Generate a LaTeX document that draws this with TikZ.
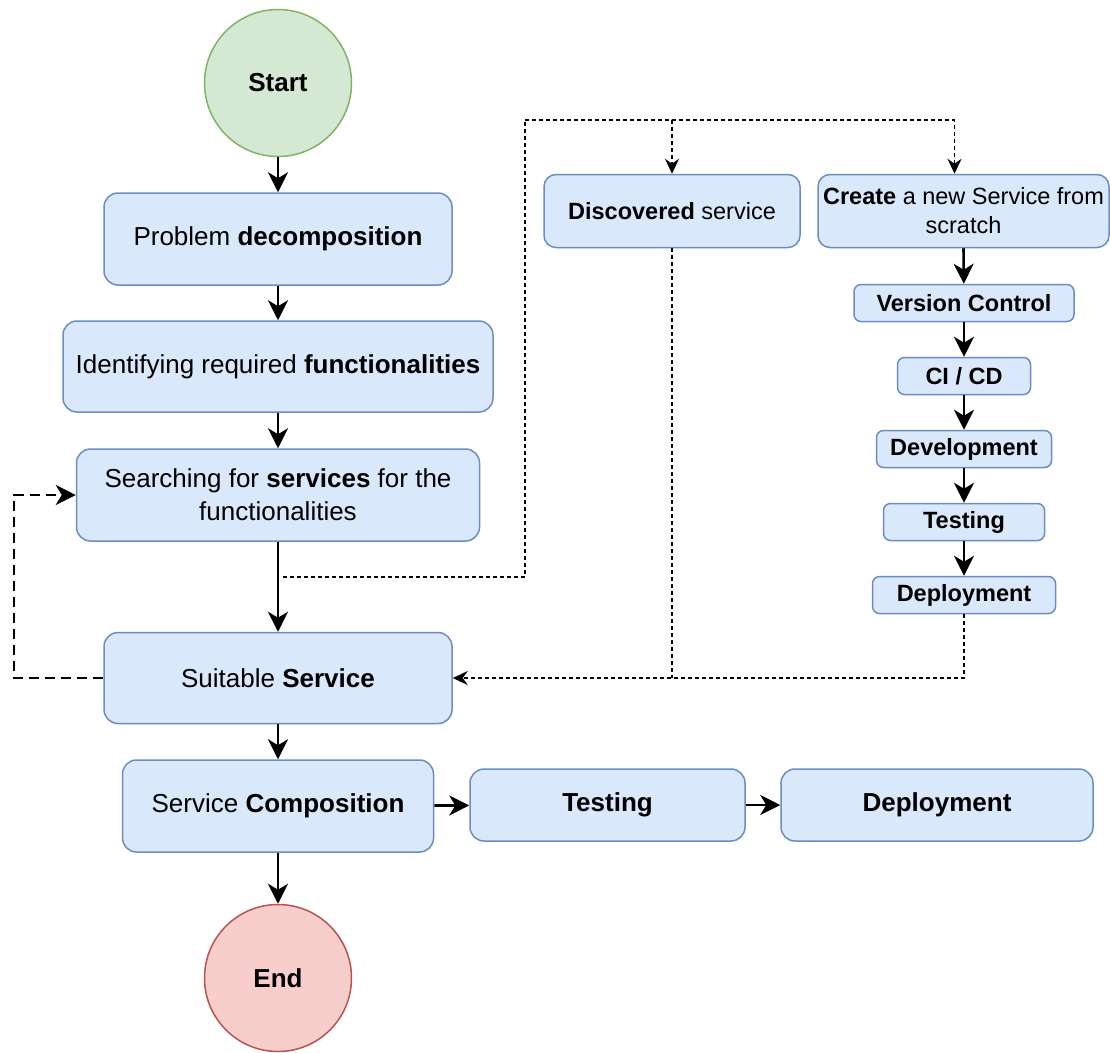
\documentclass[tikz,border=0pt]{standalone}
\usepackage{fontspec}
\setmainfont{Liberation Sans}
\usetikzlibrary{arrows.meta}
\definecolor{boxfill}{HTML}{DAE8FC}
\definecolor{boxline}{HTML}{6C8EBF}
\definecolor{startfill}{HTML}{D5E8D4}
\definecolor{startline}{HTML}{82B366}
\definecolor{endfill}{HTML}{F8CECC}
\definecolor{endline}{HTML}{B85450}
\begin{document}
\begin{tikzpicture}[x=1pt,y=-1pt,
  bigbox/.style={draw=boxline, fill=boxfill, line width=1.5pt, rounded corners=14pt,
    align=center, inner sep=0pt, font=\fontsize{26}{33}\selectfont},
  smallbox/.style={draw=boxline, fill=boxfill, line width=1.5pt, rounded corners=7pt,
    align=center, inner sep=0pt, font=\fontsize{23.5}{29}\selectfont},
  terminal/.style={circle, line width=1.5pt, minimum size=147pt, inner sep=0pt,
    font=\fontsize{26}{33}\selectfont\bfseries},
  flow/.style={line width=2.6pt, -{Stealth[length=20pt,width=20pt,inset=6pt]}},
  dots/.style={line width=1.2pt, dash pattern=on 4pt off 3pt},
  smalltip/.style={-{Stealth[length=15pt,width=14pt,inset=5pt]}},
  dashloop/.style={line width=2.6pt, dash pattern=on 10pt off 6pt,
    -{Stealth[length=20pt,width=20pt,inset=6pt]}}]

\fill[white] (0,0) rectangle (1110,1052);
\useasboundingbox (0,0) rectangle (1110,1052);

% main column
\node[terminal, draw=startline, fill=startfill] (start) at (278,83) {Start};
\node[bigbox, minimum width=348pt, minimum height=92pt] (prob) at (278,239)
  {\raisebox{-2pt}{Problem \textbf{decomposition}}};
\node[bigbox, minimum width=430pt, minimum height=91pt] (ident) at (278,366.5)
  {\raisebox{-2pt}{Identifying required \textbf{functionalities}}};
\node[bigbox, minimum width=403pt, minimum height=92pt] (search) at (278,495)
  {Searching for \textbf{services} for the\\functionalities};
\node[bigbox, minimum width=348pt, minimum height=91pt] (suit) at (278,678)
  {\raisebox{-2pt}{Suitable \textbf{Service}}};
\node[bigbox, minimum width=311pt, minimum height=92pt] (comp) at (278,806)
  {\raisebox{-2pt}{Service \textbf{Composition}}};
\node[terminal, draw=endline, fill=endfill] (end) at (278,978) {End};

% bottom row
\node[bigbox, minimum width=275pt, minimum height=72pt] (test2) at (607.5,805)
  {\raisebox{-2pt}{\textbf{Testing}}};
\node[bigbox, minimum width=312pt, minimum height=72pt] (dep2) at (937,805)
  {\raisebox{-2pt}{\textbf{Deployment}}};

% right-hand branches
\node[smallbox, rounded corners=12pt, minimum width=256pt, minimum height=73pt] (disc) at (672,211)
  {\textbf{Discovered} service};
\node[smallbox, rounded corners=12pt, minimum width=291pt, minimum height=73pt] (create) at (963.5,211)
  {\textbf{Create} a new Service from\\scratch};
\node[smallbox, minimum width=220pt, minimum height=37pt] (vc) at (964,303)
  {\textbf{Version Control}};
\node[smallbox, minimum width=133pt, minimum height=37pt] (cicd) at (964,376)
  {\textbf{CI / CD}};
\node[smallbox, minimum width=175pt, minimum height=37pt] (dev) at (964,449)
  {\textbf{Development}};
\node[smallbox, minimum width=161pt, minimum height=37pt] (test1) at (964,522)
  {\textbf{Testing}};
\node[smallbox, minimum width=183pt, minimum height=37pt] (dep1) at (964,595)
  {\textbf{Deployment}};

% solid flow
\draw[flow] (start) -- (prob);
\draw[flow] (prob) -- (ident);
\draw[flow] (ident) -- (search);
\draw[flow] (search) -- (suit);
\draw[flow] (suit) -- (comp);
\draw[flow] (comp) -- (end);
\draw[flow] (comp) -- (test2);
\draw[flow] (test2) -- (dep2);
\draw[flow] (create.south) -- (vc);
\draw[flow] (vc) -- (cicd);
\draw[flow] (cicd) -- (dev);
\draw[flow] (dev) -- (test1);
\draw[flow] (test1) -- (dep1);

% dotted branch to discovery / creation
\coordinate (tap) at (283,577);
\coordinate (split) at (525,120);
\draw[dots] (tap) -| (split);
\draw[dots, smalltip] (split) -| (disc.north);
\draw[dots, smalltip] (split) -| ([xshift=-9pt]create.north);

% dotted returns to the suitable service
\draw[dots] (disc.south) -- (disc.south |- suit.east);
\draw[dots, smalltip] (dep1.south) |- (suit.east);

% dashed retry loop
\coordinate (loop) at (14,677);
\draw[dashloop] (suit.west) -| (loop) |- (search.west);
\end{tikzpicture}
\end{document}
